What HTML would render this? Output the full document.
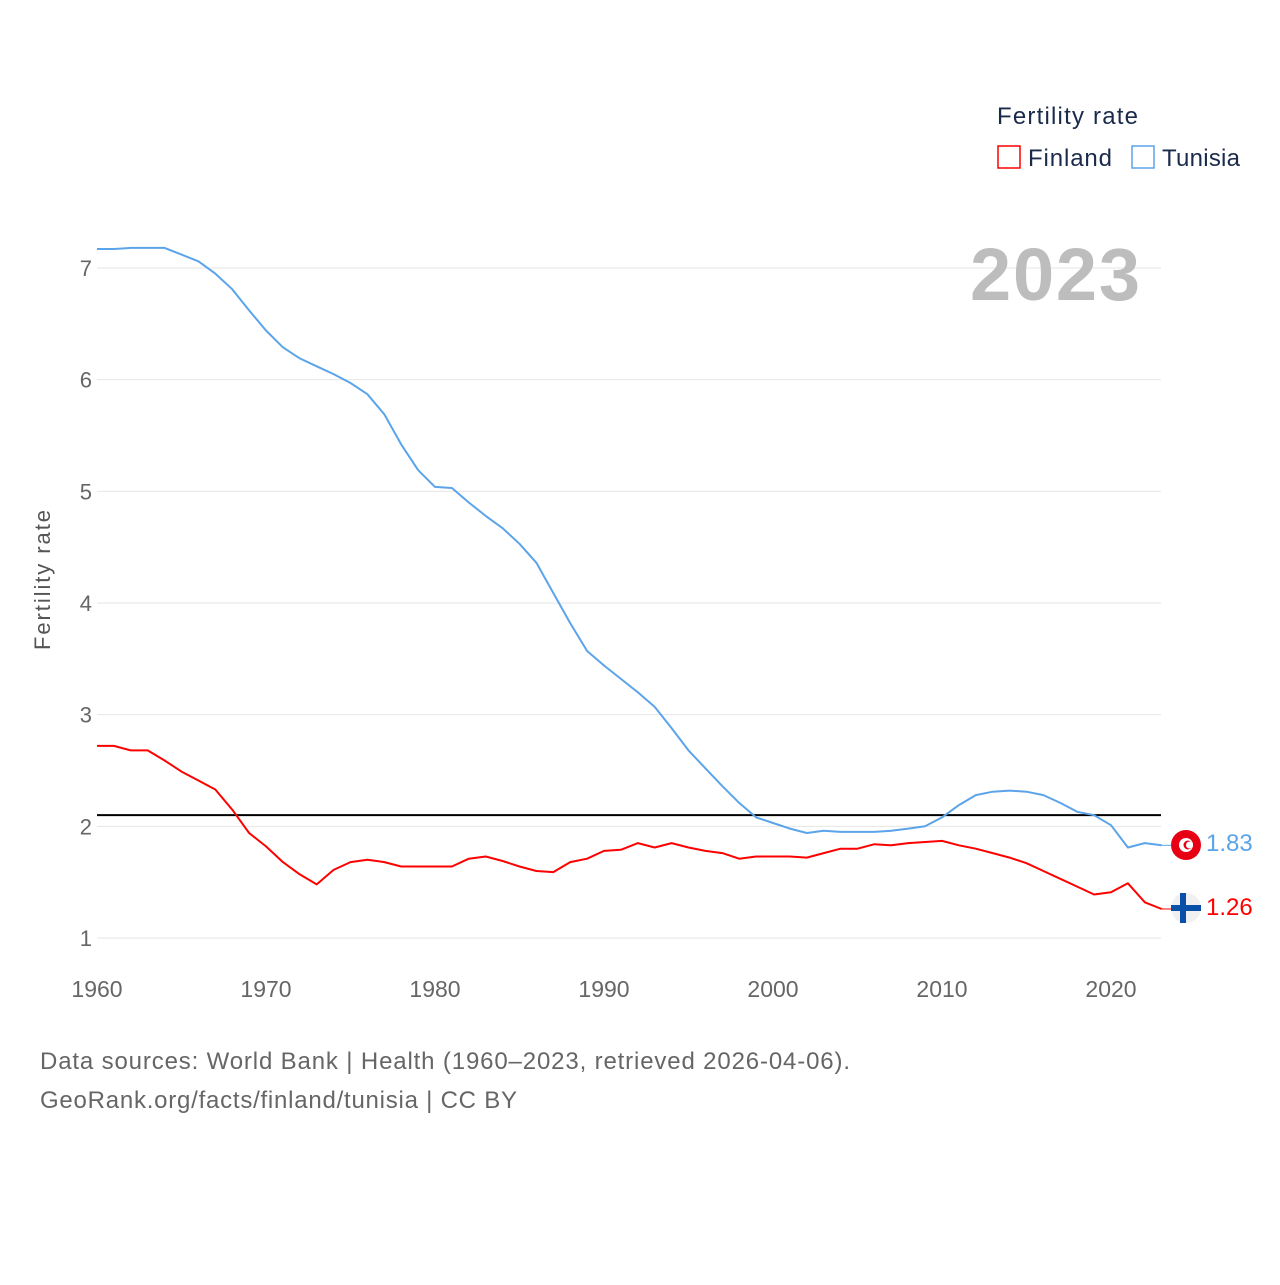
<!DOCTYPE html>
<html><head><meta charset="utf-8"><style>
body{margin:0;background:#fff;font-family:"Liberation Sans",sans-serif;}
</style></head><body>
<svg id="chart" width="1280" height="1280" xmlns="http://www.w3.org/2000/svg" style="font-family:'Liberation Sans',sans-serif">
<rect width="1280" height="1280" fill="#fff"/>
<g id="grid"></g>
<g id="lines"></g>
<text x="1140" y="300" text-anchor="end" font-size="74" font-weight="bold" fill="#bdbdbd" textLength="170">2023</text>
<text transform="translate(50,580) rotate(-90)" text-anchor="middle" font-size="22" fill="#555" textLength="140">Fertility rate</text>
<g>
<text x="997" y="124" font-size="24" fill="#1a2a4a" textLength="141">Fertility rate</text>
<g><rect x="998" y="146" width="22" height="22" fill="none" stroke="#f00" stroke-width="1.5"/><text x="1028" y="166" font-size="24" fill="#1a2a4a" textLength="84">Finland</text></g>
<g><rect x="1132" y="146" width="22" height="22" fill="none" stroke="#5ba4ea" stroke-width="1.5"/><text x="1162" y="166" font-size="24" fill="#1a2a4a" textLength="78">Tunisia</text></g>
</g>
<g><circle cx="1186" cy="845" r="15" fill="#e70013"/><circle cx="1186" cy="845" r="7" fill="#fff"/><circle cx="1188" cy="845" r="4.5" fill="#e70013"/><circle cx="1189.5" cy="845" r="3.5" fill="#fff"/></g>
<g><circle cx="1186" cy="908" r="15" fill="#f0f0f0"/><rect x="1171" y="905" width="30" height="6" fill="#0a4fa8"/><rect x="1180" y="893" width="6" height="30" fill="#0a4fa8"/></g>
<text x="1206" y="851" font-size="24" fill="#5ba4ea">1.83</text>
<text x="1206" y="915" font-size="24" fill="#f00">1.26</text>
<text x="40" y="1069" font-size="24" fill="#666" textLength="810">Data sources: World Bank | Health (1960–2023, retrieved 2026-04-06).</text>
<text x="40" y="1108" font-size="24" fill="#666" textLength="477">GeoRank.org/facts/finland/tunisia | CC BY</text>
</svg>
<script>
const years=[];for(let y=1960;y<=2023;y++)years.push(y);
const tunisia=[7.17,7.17,7.18,7.18,7.18,7.12,7.06,6.95,6.81,6.62,6.44,6.29,6.19,6.12,6.05,5.97,5.87,5.69,5.42,5.19,5.04,5.03,4.90,4.78,4.67,4.53,4.36,4.09,3.82,3.57,3.44,3.32,3.20,3.07,2.88,2.68,2.52,2.36,2.21,2.08,2.03,1.98,1.94,1.96,1.95,1.95,1.95,1.96,1.98,2.00,2.08,2.19,2.28,2.31,2.32,2.31,2.28,2.21,2.13,2.10,2.01,1.81,1.85,1.83];
const finland=[2.72,2.72,2.68,2.68,2.59,2.49,2.41,2.33,2.15,1.94,1.82,1.68,1.57,1.48,1.61,1.68,1.70,1.68,1.64,1.64,1.64,1.64,1.71,1.73,1.69,1.64,1.60,1.59,1.68,1.71,1.78,1.79,1.85,1.81,1.85,1.81,1.78,1.76,1.71,1.73,1.73,1.73,1.72,1.76,1.80,1.80,1.84,1.83,1.85,1.86,1.87,1.83,1.80,1.76,1.72,1.67,1.60,1.53,1.46,1.39,1.41,1.49,1.32,1.26];
const yTicks=[1,2,3,4,5,6,7];
const xTicks=[1960,1970,1980,1990,2000,2010,2020];
const replacement=2.1;
const X=y=>97+(y-1960)*(1111-97)/60;
const Y=v=>938-(v-1)*(670/6);
const NS="http://www.w3.org/2000/svg";
const grid=document.getElementById('grid'),lines=document.getElementById('lines');
function mk(tag,attrs,parent){const e=document.createElementNS(NS,tag);for(const k in attrs)e.setAttribute(k,attrs[k]);parent.appendChild(e);return e;}
yTicks.forEach(t=>{
 const l=mk('line',{x1:97,x2:1161,y1:Y(t),y2:Y(t),stroke:'#e6e6e6','stroke-width':1},grid);
 
 
 const tx=mk('text',{x:92,y:Y(t)+8,'text-anchor':'end','font-size':22,fill:'#666'},grid);tx.textContent=t;
 
 
});
xTicks.forEach(t=>{
 const tx=mk('text',{x:X(t),y:997,'text-anchor':'middle','font-size':23,fill:'#666'},grid);tx.textContent=t;
 
 
});
const ref=mk('line',{x1:97,x2:1161,y1:Y(replacement),y2:Y(replacement),stroke:'#000','stroke-width':2},lines);


function series(data,color,name){
 const d=data.map((v,i)=>(i?'L':'M')+X(years[i]).toFixed(1)+','+Y(v).toFixed(1)).join('');
 const p=mk('path',{d:d,fill:'none',stroke:color,'stroke-width':2,'stroke-linejoin':'round'},lines);
 
 
 const n=data.length-1;
 const c=mk('line',{x1:X(years[n]),x2:1171,y1:Y(data[n]),y2:Y(data[n]),stroke:color,'stroke-width':1},lines);
 
 
}
series(tunisia,'#5ba4ea','tunisia-line');
series(finland,'#f00','finland-line');
</script>
</body></html>
